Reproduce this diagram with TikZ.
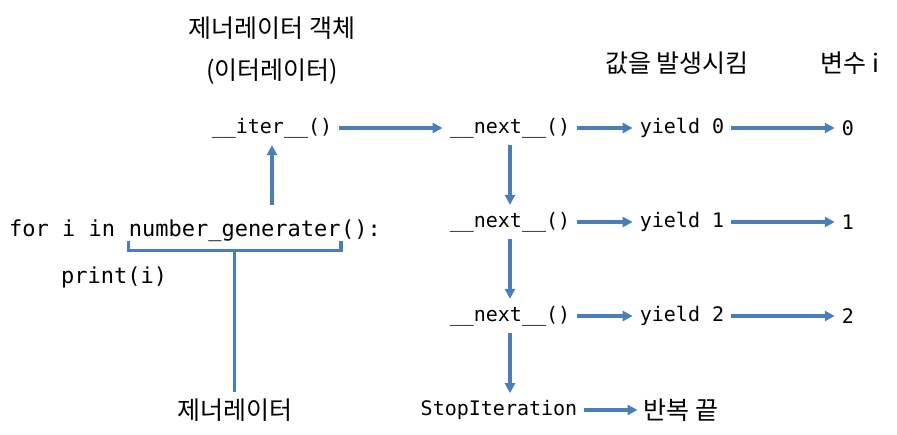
\documentclass[tikz,border=0pt]{standalone}
\usepackage{fontspec}
\setmainfont{Noto Sans CJK KR}
\setmonofont{DejaVu Sans Mono}
\usetikzlibrary{arrows.meta}
\definecolor{figB}{RGB}{74,126,187}

\begin{document}
\begin{tikzpicture}[x=1pt,y=-1pt,>={Triangle[length=10pt,width=10pt]},
  flow/.style={->,line width=3.2pt,figB},
  code/.style={font=\ttfamily\fontsize{20}{24}\selectfont,inner sep=7pt},
  loopcode/.style={font=\ttfamily\fontsize{22}{26}\selectfont,inner sep=0pt,anchor=base west},
  hangul/.style={font=\fontsize{25}{28}\selectfont,inner sep=6pt}]
\useasboundingbox (0,0) rectangle (897,434);
% headings
\node[hangul] (objname) at (272,28) {제너레이터 객체};
\node[hangul] (objsub) at (272,72) {(이터레이터)};
\node[hangul] (yieldhead) at (677,63) {값을 발생시킴};
\node[hangul] (varhead) at (850,63) {변수 i};
% the for loop
\node[loopcode] (forin) at (9,236) {for i in\mbox{ }};
\node[loopcode] (gencall) at (forin.base east) {number\_generater};
\node[loopcode] (callend) at (gencall.base east) {():};
\node[loopcode] (body) at (61,283) {print(i)};
\node[hangul] (genname) at (gencall.south |- 0,410) {제너레이터};
\draw[figB,line width=3.2pt] (gencall.south west) -- ++(0,9) -| (gencall.south east);
\draw[figB,line width=3.2pt] ([yshift=-9pt]gencall.south) -- (genname.north);
% iterator calls
\node[code] (iter) at (272,128) {\_\_iter\_\_()};
\draw[flow,shorten <=14pt] (iter |- gencall.north) -- (iter);
\foreach \k/\y in {0/128,1/222,2/316}{
  \node[code] (next\k) at (510,\y) {\_\_next\_\_()};
  \node[code] (yield\k) at (682,\y) {yield \k};
  \node[code] (var\k) at (848,\y) {\k};
  \draw[flow] (next\k) -- (yield\k);
  \draw[flow] (yield\k) -- (var\k);
}
\node[code] (stop) at (499,410) {StopIteration};
\node[hangul] (endloop) at (681,410) {반복 끝};
\draw[flow] (iter) -- (next0);
\draw[flow] (next0) -- (next1);
\draw[flow] (next1) -- (next2);
\draw[flow] (next2) -- (next2 |- stop.north);
\draw[flow] (stop) -- (endloop);
\end{tikzpicture}
\end{document}
